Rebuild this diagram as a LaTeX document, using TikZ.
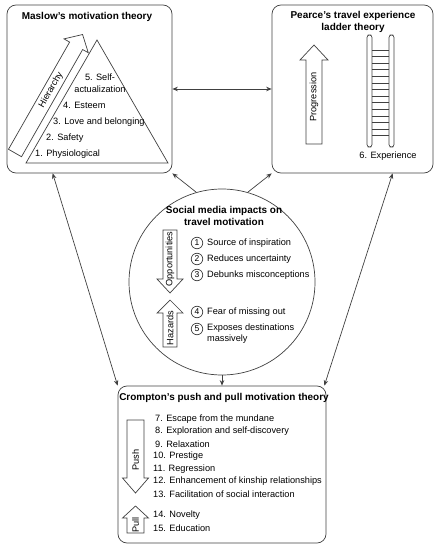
\documentclass[tikz,border=0pt]{standalone}
\usepackage{fontspec}
\setmainfont{Liberation Sans}
\usetikzlibrary{arrows.meta,calc}
\tikzset{
  ln/.style={draw=black!75, line width=0.7bp},
  boxst/.style={ln, rounded corners=9bp, rectangle, inner sep=0},
  conn/.style={ln, {Stealth[length=5.5bp,width=4.5bp]}-{Stealth[length=5.5bp,width=4.5bp]}},
  conn1/.style={ln, -{Stealth[length=5.5bp,width=4.5bp]}},
  txt/.style={inner sep=0, anchor=west},
  ttl/.style={inner sep=0, font=\bfseries, align=center},
  numc/.style={circle, ln, inner sep=0, minimum size=11.5bp, font=\fontsize{8.5bp}{10bp}\selectfont},
  arrtxt/.style={inner sep=0, rotate=90}
}
\newcommand{\blockarr}[7]{%
  \begin{scope}[shift={(#1,#2)},rotate=#3]
    \draw[ln, fill=white] (0,-#5) -- ({#4-#7},-#5) -- ({#4-#7},-#6) -- (#4,0) -- ({#4-#7},#6) -- ({#4-#7},#5) -- (0,#5) -- cycle;
  \end{scope}}
\begin{document}
\begin{tikzpicture}[x=1bp, y=-1bp, font=\fontsize{9.2bp}{11.5bp}\selectfont]
\useasboundingbox (0,0) rectangle (441,550);

% main boxes
\node[boxst, minimum width=165bp, minimum height=168bp] (masl) at (89.5,89) {};
\node[boxst, minimum width=161bp, minimum height=168bp] (pear) at (352.5,89) {};
\node[boxst, minimum width=208bp, minimum height=157bp] (crom) at (222,464.5) {};
\node[circle, ln, inner sep=0, minimum size=186bp] (circ) at (222,282) {};

% Maslow
\node[ttl] (maslt) at (87,17) {Maslow's motivation theory};
\draw[ln] (97,40) -- (168,163) -- (26,163) -- cycle;
\blockarr{15}{153}{60.3}{136.4}{7.5}{14}{13}
\node[inner sep=0, rotate=60.3] (hier) at (51,90) {Hierarchy};
\node[inner sep=0, align=center] (m5) at (100,83) {5. Self-\\actualization};
\node[txt] (m4) at (63,105) {4. Esteem};
\node[txt] (m3) at (53,122) {3. Love and belonging};
\node[txt] (m2) at (46,138) {2. Safety};
\node[txt] (m1) at (35,154) {1. Physiological};

% Pearce
\node[ttl] (peart) at (353,22) {Pearce's travel experience\\ladder theory};
\blockarr{314}{144}{90}{99}{8}{14}{15}
\node[arrtxt] (prog) at (314,97) {Progression};
\draw[ln, rounded corners=2.5bp] (367,35) rectangle (372,147);
\draw[ln, rounded corners=2.5bp] (389,35) rectangle (394,147);
\foreach \i in {0,...,13} \draw[ln] (372,{50+\i*6.6}) -- (389,{50+\i*6.6});
\node[inner sep=0] (exp) at (388,156) {6. Experience};

% Circle
\node[ttl] (circt) at (224,216) {Social media impacts on\\travel motivation};
\blockarr{170}{230}{-90}{63}{7}{13}{14}
\node[arrtxt] (opp) at (170,259) {Opportunities};
\blockarr{170}{347}{90}{47}{7}{13}{13}
\node[arrtxt] (haz) at (170,328) {Hazards};
\node[numc] (c1) at (197,243) {1};
\node[numc] (c2) at (197,259) {2};
\node[numc] (c3) at (197,275) {3};
\node[numc] (c4) at (197,312) {4};
\node[numc] (c5) at (197,329) {5};
\node[txt] (s1) at (207,243) {Source of inspiration};
\node[txt] (s2) at (207,259) {Reduces uncertainty};
\node[txt] (s3) at (207,275) {Debunks misconceptions};
\node[txt] (s4) at (207,312) {Fear of missing out};
\node[txt, align=left, anchor=north west] (s5) at (207,323.5) {Exposes destinations\\massively};

% Crompton
\node[ttl] (cromt) at (224,398) {Crompton's push and pull motivation theory};
\blockarr{135.5}{420}{-90}{73}{8.5}{13}{15}
\node[arrtxt] (push) at (135.5,460) {Push};
\blockarr{135.5}{533}{90}{27}{8.5}{13}{12}
\node[arrtxt] (pull) at (135.5,525) {Pull};
\node[txt] (p7) at (155,419) {7. Escape from the mundane};
\node[txt] (p8) at (155,431.5) {8. Exploration and self-discovery};
\node[txt] (p9) at (155,444) {9. Relaxation};
\node[txt] (p10) at (153,456.5) {10. Prestige};
\node[txt] (p11) at (153,469) {11. Regression};
\node[txt] (p12) at (153,481.5) {12. Enhancement of kinship relationships};
\node[txt] (p13) at (153,494) {13. Facilitation of social interaction};
\node[txt] (p14) at (153,515) {14. Novelty};
\node[txt] (p15) at (153,528) {15. Education};

% connectors
\coordinate (mb) at ($(masl.south west)+(46,0)$);
\coordinate (pb) at ($(pear.south west)+(121,0)$);
\draw[conn] (masl.east) -- (pear.west);
\draw[conn1] (circ.106) -- (masl.south east);
\draw[conn1] (circ.74) -- (pear.south west);
\draw[conn] (mb) -- (crom.north west);
\draw[conn] (pb) -- ($(crom.north east)+(-2,0)$);
\draw[conn1] (circ.south) -- (crom.north);
\end{tikzpicture}
\end{document}
